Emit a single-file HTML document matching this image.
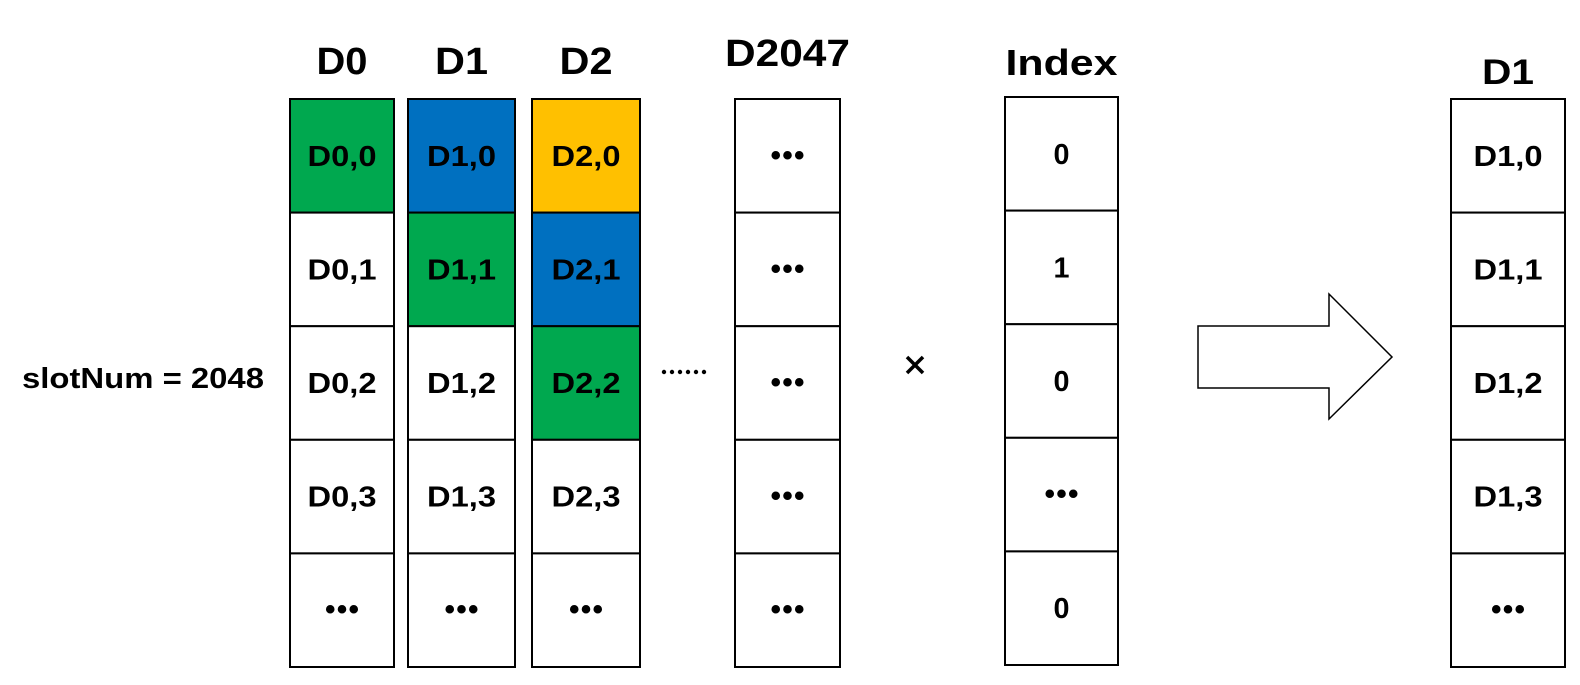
<!DOCTYPE html>
<html><head><meta charset="utf-8"><style>
body{margin:0;background:#fff;}
svg text{font-family:"Liberation Sans",sans-serif;font-weight:bold;fill:#000;}
</style></head><body>
<svg id="s" width="1580" height="680" xmlns="http://www.w3.org/2000/svg">
<text x="22" y="388" font-size="29" textLength="242" lengthAdjust="spacingAndGlyphs">slotNum = 2048</text>
<g fill="#000">
<circle cx="664" cy="372" r="2.2"/><circle cx="672" cy="372" r="2.2"/><circle cx="680" cy="372" r="2.2"/><circle cx="688" cy="372" r="2.2"/><circle cx="696" cy="372" r="2.2"/><circle cx="704" cy="372" r="2.2"/>
</g>
<g stroke="#000" stroke-width="3.5">
<line x1="907" y1="357" x2="923" y2="373"/><line x1="923" y1="357" x2="907" y2="373"/>
</g>
<polygon points="1198,326 1329,326 1329,294 1392,357 1329,419 1329,388 1198,388" fill="#fff" stroke="#000" stroke-width="1.5"/>
</svg>
<script>
const columnNames = ["D0","D1","D2","D2047","Index","D1"];
const columnKeys = ["column-d0","column-d1","column-d2","column-d2047","column-index","column-result-d1"];
const columnX = [290,408,532,735,1005,1451];
const columnW = [104,107,108,105,113,114];
const columnTop = [99,99,99,99,97,99];
const headerY = [74,74,74,66,75,84];
const headerSize = [38,38,38,38,36,35];
const headerLen = [51,53,53,125,112,52];
const cellLabels = [
 ["D0,0","D0,1","D0,2","D0,3","•••"],
 ["D1,0","D1,1","D1,2","D1,3","•••"],
 ["D2,0","D2,1","D2,2","D2,3","•••"],
 ["•••","•••","•••","•••","•••"],
 ["0","1","0","•••","0"],
 ["D1,0","D1,1","D1,2","D1,3","•••"]
];
const cellFills = [
 ["#00a84f","#fff","#fff","#fff","#fff"],
 ["#0070c0","#00a84f","#fff","#fff","#fff"],
 ["#ffc000","#0070c0","#00a84f","#fff","#fff"],
 ["#fff","#fff","#fff","#fff","#fff"],
 ["#fff","#fff","#fff","#fff","#fff"],
 ["#fff","#fff","#fff","#fff","#fff"]
];
const rowH = 113.6;
const svg = document.getElementById('s');
const NS = "http://www.w3.org/2000/svg";
columnNames.forEach((name,c)=>{
  const g = document.createElementNS(NS,'g');
  
  
  const x = columnX[c], w = columnW[c];
  const h = document.createElementNS(NS,'text');
  
  
  h.setAttribute('x', x + w/2 - headerLen[c]/2); h.setAttribute('y', headerY[c]);
  h.setAttribute('font-size', headerSize[c]);
  h.setAttribute('textLength', headerLen[c]); h.setAttribute('lengthAdjust','spacingAndGlyphs');
  h.textContent = name; g.appendChild(h);
  cellLabels[c].forEach((lab,r)=>{
    const y = columnTop[c] + r*rowH;
    const rect = document.createElementNS(NS,'rect');
    
    
    rect.setAttribute('x', x); rect.setAttribute('y', y);
    rect.setAttribute('width', w); rect.setAttribute('height', rowH);
    rect.setAttribute('fill', cellFills[c][r]); rect.setAttribute('stroke','#000'); rect.setAttribute('stroke-width','2');
    g.appendChild(rect);
    const t = document.createElementNS(NS,'text');
    
    
    const cx = x + w/2;
    if (lab === "•••") {
      t.setAttribute('x', cx - 17); t.setAttribute('y', y + rowH/2 + 9);
      t.setAttribute('font-size', 30);
      t.setAttribute('textLength', 34); t.setAttribute('lengthAdjust','spacing');
    } else {
      const len = lab.length > 1 ? 69 : 16;
      t.setAttribute('x', cx - len/2); t.setAttribute('y', y + rowH/2 + 10);
      t.setAttribute('font-size', 29);
      t.setAttribute('textLength', len); t.setAttribute('lengthAdjust','spacingAndGlyphs');
    }
    t.textContent = lab; g.appendChild(t);
  });
  svg.appendChild(g);
});
</script>
</body></html>
